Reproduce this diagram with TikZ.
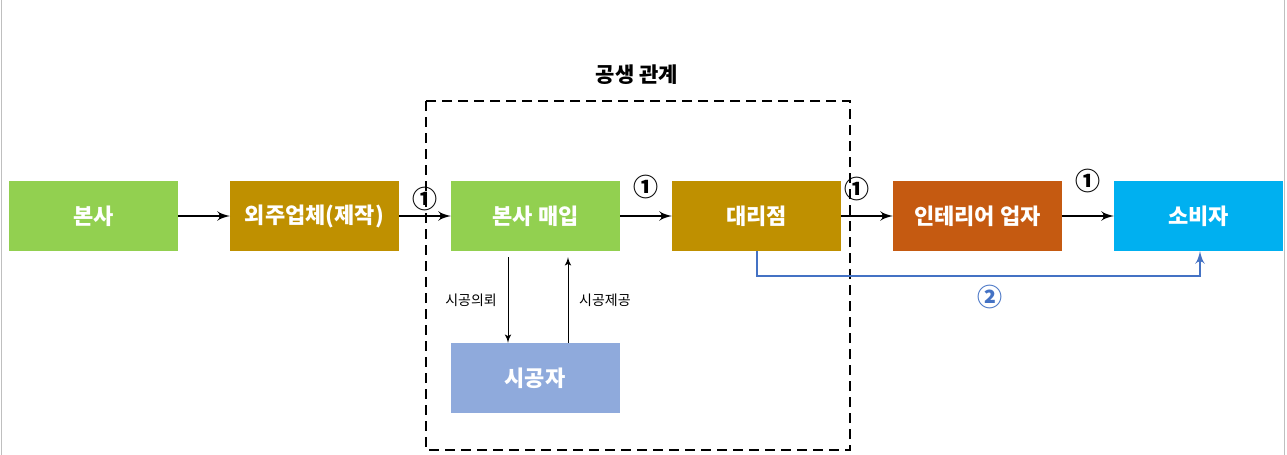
\documentclass[tikz,border=0pt]{standalone}
\usepackage{fontspec}
\setmainfont{Noto Sans CJK KR}
\usetikzlibrary{arrows,positioning}
\definecolor{cgreen}{RGB}{146,208,80}
\definecolor{cgold}{RGB}{191,144,0}
\definecolor{corange}{RGB}{197,90,17}
\definecolor{csky}{RGB}{0,176,240}
\definecolor{clav}{RGB}{143,170,220}
\definecolor{cblue}{RGB}{68,114,196}
\tikzset{
  boxnode/.style = {rectangle, align=center, inner sep=0pt, outer sep=0pt,
    text=white, font=\fontsize{11}{13}\selectfont\bfseries,
    minimum width=84.5pt, minimum height=35pt},
  box_g/.style = {boxnode, fill=cgreen},% vert
  box_o/.style = {boxnode, fill=cgold},% or
  box_r/.style = {boxnode, fill=corange},% orange
  box_s/.style = {boxnode, fill=csky},% bleu ciel
  box_l/.style = {boxnode, fill=clav},% lavande
  num/.style = {font=\fontsize{12.5}{14}\selectfont\bfseries, inner sep=1pt},% numero
  small/.style = {font=\fontsize{7}{9}\selectfont}% petit texte
}

\begin{document}
\begin{tikzpicture}[x=0.5pt,y=-0.5pt,>=latex',node distance=26pt]
\useasboundingbox (0,0) rectangle (1287,455);
\draw[black!25, line width=0.6pt] (1.5,0) -- (1.5,455) (1284.5,0) -- (1284.5,455);
\node [box_g] (hq) at (93.5,216) {본사};
\node [box_o, right=of hq] (sub) {외주업체(제작)};
\node [box_g, right=of sub] (buy) {본사 매입};
\node [box_o, right=of buy] (agent) {대리점};
\node [box_r, right=of agent] (inter) {인테리어 업자};
\node [box_s, right=of inter] (cons) {소비자};
\node [box_l] (build) at (535,378) {시공자};
\draw [dashed, line width=1.4pt, dash pattern=on 5pt off 3pt] (426,101) rectangle (850,450);
\node [font=\fontsize{10.5}{12}\selectfont\bfseries] (title) at (637,75) {공생 관계};
\draw [->, line width=1.2pt] (hq) -- (sub);
\draw [->, line width=1.2pt] (sub) -- (buy) node[num, midway, above=1pt] (n1) {①};
\draw [->, line width=1.2pt] (buy) -- (agent) node[num, midway, above=7pt] (n2) {①};
\draw [->, line width=1.2pt] (agent) -- (inter) node[num, midway, above=6pt, xshift=-5pt] (n3) {①};
\draw [->, line width=1.2pt] (inter) -- (cons) node[num, midway, above=10pt] (n4) {①};
\coordinate (c1) at (757,276);
\coordinate (c2) at (1200,276);
\draw [->, cblue, line width=1.2pt] (agent.south -| c1) -- (c1) -- (c2) -- (c2 |- cons.south);
\node [num, text=cblue] (n5) at (990,297) {②};
\draw [->, line width=0.5pt] (508,257) -- (build.north -| 508,0) node[small, midway, left=2pt] (ask) {시공의뢰};
\draw [->, line width=0.5pt] (build.north -| 568,0) -- (568,257) node[small, midway, right=2pt] (give) {시공제공};
\end{tikzpicture}
\end{document}
